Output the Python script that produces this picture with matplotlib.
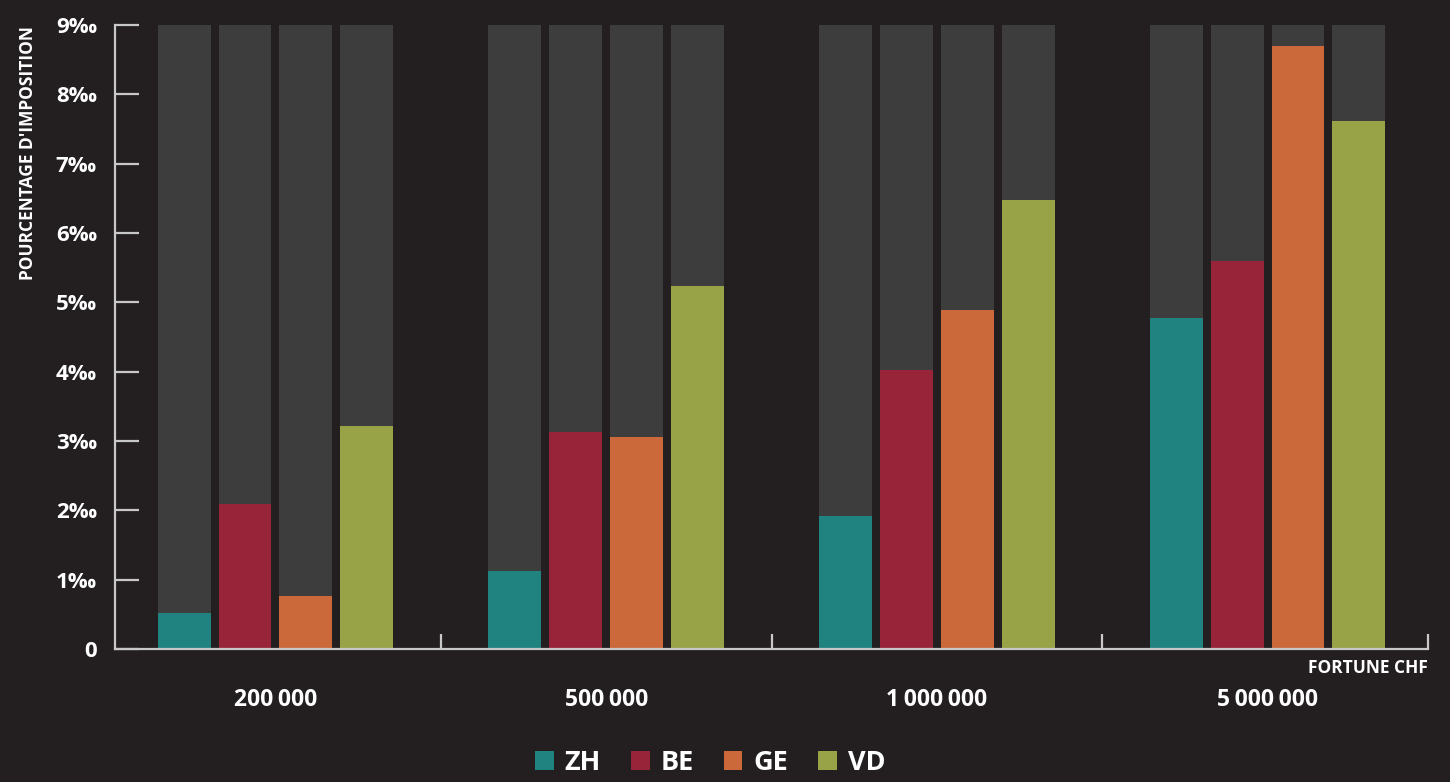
import numpy as np
import matplotlib.pyplot as plt
from matplotlib.patches import Patch

# taux d'imposition sur la fortune, en pour mille
fortunes = ['200\u2009000', '500\u2009000', '1\u2009000\u2009000', '5\u2009000\u2009000']
cantons = ['ZH', 'BE', 'GE', 'VD']
zh = [0.52, 1.12, 1.92, 4.77]
be = [2.09, 3.13, 4.02, 5.60]
ge = [0.76, 3.06, 4.89, 8.70]
vd = [3.22, 5.24, 6.48, 7.62]
y_max = 9
y_ticks = [0, 1, 2, 3, 4, 5, 6, 7, 8, 9]
y_labels = ['0'] + ['%d‰' % t for t in y_ticks[1:]]

bg = '#231f20'
track = '#3d3d3d'
colors = ['#21837f', '#98243a', '#cc693b', '#98a246']
axis_col = '#c8c8c8'

plt.rcParams['font.family'] = ['Open Sans', 'DejaVu Sans']
plt.rcParams['font.weight'] = 'bold'

fig = plt.figure(figsize=(14.5, 7.82), dpi=100, facecolor=bg)
ax = fig.add_axes([115 / 1450, 1 - 649 / 782, (1428 - 115) / 1450, (649 - 25) / 782])
ax.set_facecolor(bg)

x = np.arange(len(fortunes))
width = 0.16
step = 0.184
for i, vals in enumerate([zh, be, ge, vd]):
    pos = x + (i - 1.5) * step
    # grey track up to the top of the scale, then the value on top
    ax.bar(pos, [y_max] * len(x), width=width, color=track, zorder=1)
    ax.bar(pos, vals, width=width, color=colors[i], zorder=2)

ax.set_xlim(-0.485, 3.485)
ax.set_ylim(0, y_max)

for s in ['top', 'right']:
    ax.spines[s].set_visible(False)
for s in ['left', 'bottom']:
    ax.spines[s].set_color(axis_col)
    ax.spines[s].set_linewidth(1.6)
    ax.spines[s].set_zorder(3)

ax.set_yticks(y_ticks)
ax.set_yticklabels(y_labels)
ax.tick_params(axis='y', direction='in', length=17, width=1.6, color=axis_col,
               labelcolor='white', labelsize=16, pad=13)

ax.set_xticks(x)
ax.set_xticklabels(fortunes)
ax.tick_params(axis='x', which='major', length=0, labelsize=16.5, pad=28, labelcolor='white')
ax.set_xticks([0.5, 1.5, 2.5, 3.485], minor=True)
ax.tick_params(axis='x', which='minor', direction='in', length=11, width=1.6, color=axis_col)

fig.text(19 / 1450, 1 - 26 / 782, "POURCENTAGE D'IMPOSITION", rotation=90,
         ha='left', va='top', color='white', fontsize=12.5, fontweight='bold')
fig.text(1428 / 1450, 1 - 668 / 782, 'FORTUNE CHF', ha='right', va='center',
         color='white', fontsize=12.5, fontweight='bold')

handles = [Patch(facecolor=c, label=n) for c, n in zip(colors, cantons)]
leg = fig.legend(handles=handles, loc='center', bbox_to_anchor=(710 / 1450, 1 - 763 / 782),
                 ncol=4, frameon=False, fontsize=19.5, handlelength=0.7, handleheight=0.7,
                 handletextpad=0.4, columnspacing=1.1)
for t in leg.get_texts():
    t.set_color('white')
    t.set_fontweight('bold')

fig.savefig('out.png', dpi=100, facecolor=bg)
